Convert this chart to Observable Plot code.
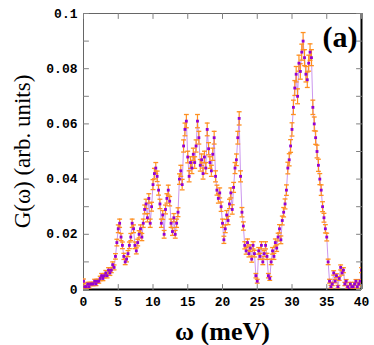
<!DOCTYPE html>
<html><head><meta charset="utf-8">
<script src="https://cdn.jsdelivr.net/npm/d3@7"></script>
<script src="https://cdn.jsdelivr.net/npm/@observablehq/plot@0.6"></script>
<style>body{margin:0;background:#fff}</style>
</head><body><div id="chart"></div>
<script>
const omega = [
0,0.2,0.4,0.6,0.8,1,1.2,1.4,1.6,1.8,2,2.2,2.4,2.6,2.8,3,3.2,3.4,3.6,3.8,
4,4.2,4.4,4.6,4.8,5,5.2,5.4,5.6,5.8,6,6.2,6.4,6.6,6.8,7,7.2,7.4,7.6,7.8,
8,8.2,8.4,8.6,8.8,9,9.2,9.4,9.6,9.8,10,10.2,10.4,10.6,10.8,11,11.2,11.4,11.6,11.8,
12,12.2,12.4,12.6,12.8,13,13.2,13.4,13.6,13.8,14,14.2,14.4,14.6,14.8,15,15.2,15.4,15.6,15.8,
16,16.2,16.4,16.6,16.8,17,17.2,17.4,17.6,17.8,18,18.2,18.4,18.6,18.8,19,19.2,19.4,19.6,19.8,
20,20.2,20.4,20.6,20.8,21,21.2,21.4,21.6,21.8,22,22.2,22.4,22.6,22.8,23,23.2,23.4,23.6,23.8,
24,24.2,24.4,24.6,24.8,25,25.2,25.4,25.6,25.8,26,26.2,26.4,26.6,26.8,27,27.2,27.4,27.6,27.8,
28,28.2,28.4,28.6,28.8,29,29.2,29.4,29.6,29.8,30,30.2,30.4,30.6,30.8,31,31.2,31.4,31.6,31.8,
32,32.2,32.4,32.6,32.8,33,33.2,33.4,33.6,33.8,34,34.2,34.4,34.6,34.8,35,35.2,35.4,35.6,35.8,
36,36.2,36.4,36.6,36.8,37,37.2,37.4,37.6,37.8,38,38.2,38.4,38.6,38.8,39,39.2,39.4,39.6,39.8,
40];
const G = [
0.003,0.001,0.001,0.002,0.001, 0.002,0.002,0.002,0.003,0.002,
0.003,0.003,0.004,0.005,0.004, 0.005,0.006,0.005,0.007,0.006,
0.007,0.009,0.008,0.012,0.017, 0.022,0.024,0.019,0.016,0.012,
0.010,0.011,0.013,0.016,0.019, 0.024,0.022,0.016,0.014,0.017,
0.020,0.022,0.019,0.024,0.029, 0.031,0.026,0.033,0.024,0.030,
0.038,0.042,0.044,0.041,0.036, 0.031,0.024,0.027,0.020,0.029,
0.033,0.036,0.032,0.024,0.021, 0.026,0.020,0.024,0.028,0.040,
0.043,0.038,0.052,0.058,0.061, 0.048,0.041,0.046,0.044,0.049,
0.046,0.052,0.061,0.055,0.045, 0.047,0.042,0.048,0.044,0.058,
0.051,0.046,0.043,0.049,0.055, 0.041,0.036,0.033,0.035,0.030,
0.024,0.018,0.022,0.027,0.025, 0.031,0.035,0.029,0.037,0.044,
0.047,0.055,0.062,0.041,0.028, 0.023,0.016,0.014,0.017,0.013,
0.015,0.011,0.016,0.013,0.005, 0.003,0.014,0.012,0.016,0.010,
0.013,0.016,0.012,0.005,0.004, 0.010,0.014,0.012,0.017,0.015,
0.019,0.022,0.018,0.025,0.028, 0.031,0.036,0.044,0.047,0.052,
0.058,0.066,0.073,0.078,0.070, 0.082,0.079,0.086,0.090,0.084,
0.078,0.076,0.082,0.086,0.084, 0.066,0.060,0.055,0.050,0.045,
0.040,0.036,0.030,0.026,0.022, 0.019,0.010,0.003,0.001,0.002,
0.006,0.003,0.005,0.001,0.004, 0.008,0.006,0.007,0.002,0.003,
0.001,0.000,0.002,0.001,0.001, 0.002,0.003,0.001,0.002,0.003,
0.007];
const err = [
0.0008,0.0005,0.0005,0.0006,0.0005, 0.0006,0.0006,0.0006,0.0007,0.0006,
0.0007,0.0007,0.0008,0.0008,0.0008, 0.0008,0.0009,0.0008,0.0009,0.0009,
0.0009,0.0010,0.0009,0.0010,0.0012, 0.0014,0.0015,0.0013,0.0012,0.0011,
0.0010,0.0010,0.0011,0.0012,0.0013, 0.0015,0.0014,0.0012,0.0011,0.0012,
0.0013,0.0014,0.0013,0.0015,0.0016, 0.0017,0.0015,0.0017,0.0015,0.0016,
0.0018,0.0019,0.0020,0.0019,0.0018, 0.0017,0.0015,0.0016,0.0014,0.0016,
0.0017,0.0018,0.0017,0.0015,0.0014, 0.0015,0.0014,0.0015,0.0016,0.0019,
0.0020,0.0019,0.0022,0.0023,0.0024, 0.0021,0.0020,0.0021,0.0020,0.0022,
0.0021,0.0022,0.0024,0.0023,0.0021, 0.0021,0.0020,0.0021,0.0020,0.0023,
0.0022,0.0021,0.0020,0.0022,0.0023, 0.0020,0.0018,0.0017,0.0018,0.0017,
0.0015,0.0013,0.0014,0.0016,0.0015, 0.0017,0.0018,0.0017,0.0018,0.0020,
0.0021,0.0023,0.0024,0.0020,0.0017, 0.0015,0.0013,0.0012,0.0013,0.0012,
0.0012,0.0011,0.0013,0.0012,0.0008, 0.0007,0.0012,0.0011,0.0013,0.0010,
0.0011,0.0013,0.0011,0.0008,0.0007, 0.0010,0.0012,0.0011,0.0013,0.0012,
0.0014,0.0015,0.0014,0.0016,0.0017, 0.0018,0.0019,0.0021,0.0022,0.0023,
0.0024,0.0026,0.0027,0.0028,0.0027, 0.0029,0.0028,0.0029,0.0031,0.0029,
0.0028,0.0028,0.0029,0.0030,0.0029, 0.0026,0.0025,0.0024,0.0023,0.0022,
0.0020,0.0019,0.0018,0.0016,0.0015, 0.0014,0.0010,0.0007,0.0005,0.0006,
0.0008,0.0006,0.0007,0.0005,0.0007, 0.0009,0.0008,0.0009,0.0006,0.0006,
0.0005,0.0004,0.0006,0.0005,0.0005, 0.0006,0.0006,0.0005,0.0006,0.0006,
0.0009];
const xTicks = [0,5,10,15,20,25,30,35,40];
const yTicks = [0,0.02,0.04,0.06,0.08,0.1];
const yMinor = [0.01,0.03,0.05,0.07,0.09];
const xTitle = "ω (meV)";
const yTitle = "G(ω) (arb. units)";
const panelLabel = "(a)";

const data = omega.map((w, i) => ({w, g: G[i], e: err[i]}));
const tickShape = {draw(ctx, l) { ctx.moveTo(0, 0); ctx.lineTo(0, -l); }};
const tickFont = {fontFamily: "Liberation Mono", fontSize: 13, fontWeight: "bold"};
const tickStyle = {length: 5, anchor: "start", shape: tickShape, stroke: "#808080", strokeWidth: 1};
const allY = yTicks.concat(yMinor);
const capHalf = 0.35;
const orange = "#ff9020";

const chart = Plot.plot({
  width: 374, height: 345,
  marginLeft: 83, marginRight: 13, marginTop: 13, marginBottom: 56,
  style: {background: "#fff", overflow: "visible"},
  x: {domain: [0, 40]},
  y: {domain: [0, 0.1]},
  marks: [
    Plot.frame({stroke: "#666", strokeWidth: 1}),
    Plot.ruleY([0], {stroke: "#000", strokeWidth: 2}),
    Plot.ruleX([40], {stroke: "#000", strokeWidth: 2}),
    Plot.vector(allY, {y: d => d, frameAnchor: "left", rotate: 90, ...tickStyle}),
    Plot.vector(allY, {y: d => d, frameAnchor: "right", rotate: -90, ...tickStyle}),
    Plot.vector(xTicks, {x: d => d, frameAnchor: "bottom", rotate: 0, ...tickStyle}),
    Plot.vector(xTicks, {x: d => d, frameAnchor: "top", rotate: 180, ...tickStyle}),
    Plot.axisX(xTicks, {tickSize: 0, tickPadding: 7, tickFormat: d => String(d), label: null, fill: "#000", ...tickFont}),
    Plot.axisY(yTicks, {tickSize: 0, tickPadding: 6, tickFormat: d => String(d), label: null, fill: "#000", ...tickFont}),
    Plot.line(data, {x: "w", y: "g", stroke: "#a040e0", strokeOpacity: 0.55, strokeWidth: 1, clip: true}),
    Plot.ruleX(data, {x: "w", y1: d => d.g - d.e, y2: d => d.g + d.e, stroke: orange, strokeWidth: 1.2, clip: true}),
    Plot.link(data, {x1: d => d.w - capHalf, x2: d => d.w + capHalf, y1: d => d.g + d.e, y2: d => d.g + d.e, stroke: orange, strokeWidth: 1.3, clip: true}),
    Plot.link(data, {x1: d => d.w - capHalf, x2: d => d.w + capHalf, y1: d => d.g - d.e, y2: d => d.g - d.e, stroke: orange, strokeWidth: 1.3, clip: true}),
    Plot.dot(data, {x: "w", y: "g", symbol: "square", r: 1.6, fill: "#9400d3", stroke: "none", clip: true}),
    Plot.text([xTitle], {text: d => d, frameAnchor: "bottom", dy: 42, lineAnchor: "middle", textAnchor: "middle", fontFamily: "Liberation Serif", fontWeight: "bold", fontSize: 26, fill: "#000"}),
    Plot.text([yTitle], {text: d => d, frameAnchor: "left", dx: -61, rotate: -90, lineAnchor: "middle", textAnchor: "middle", fontFamily: "Liberation Serif", fontSize: 23, fill: "#000"}),
    Plot.text([panelLabel], {text: d => d, frameAnchor: "top-right", dx: -4, dy: 12, lineAnchor: "top", textAnchor: "end", fontFamily: "Liberation Serif", fontWeight: "bold", fontSize: 30, fill: "#000"})
  ]
});
document.getElementById("chart").appendChild(chart);
</script>
</body></html>
